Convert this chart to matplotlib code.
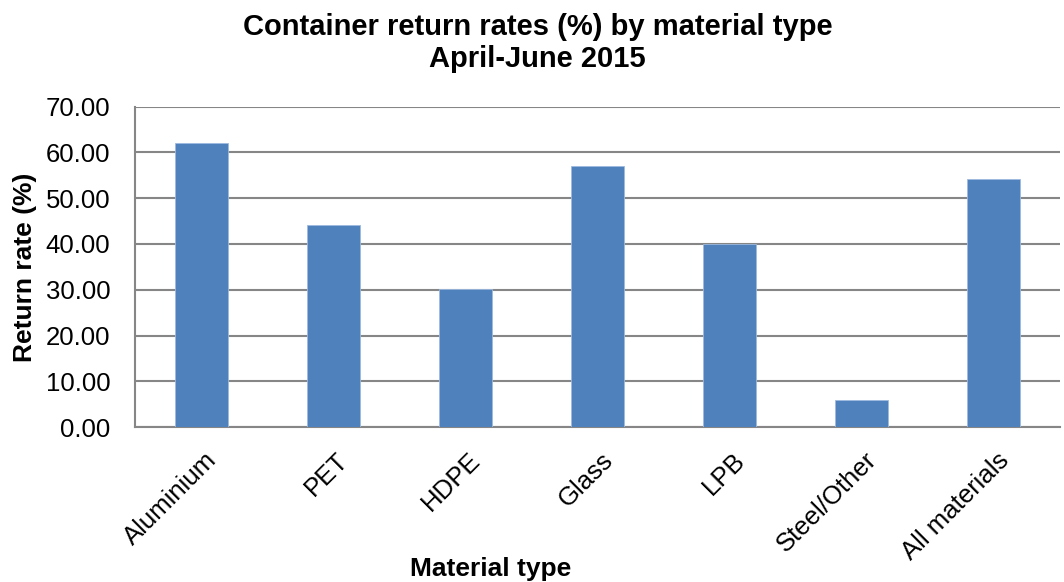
import matplotlib.pyplot as plt
import numpy as np
from matplotlib.transforms import ScaledTranslation

plt.rcParams["font.family"] = ["Liberation Sans", "DejaVu Sans"]

# data
materials = ['Aluminium', 'PET', 'HDPE', 'Glass', 'LPB', 'Steel/Other', 'All materials']
return_rate = [62.0, 44.2, 30.1, 57.0, 40.0, 5.9, 54.2]
y_ticks = [0, 10, 20, 30, 40, 50, 60, 70]

bar_col = '#4F81BD'
grid_col = '#868686'

fig = plt.figure(figsize=(10.64, 5.82), dpi=100)
ax = fig.add_axes([0.127, 0.266, 0.869, 0.551])

x = np.arange(len(materials))
ax.bar(x, return_rate, width=0.4, color=bar_col, edgecolor='#9DBBE0',
       linewidth=0.6, zorder=3)

ax.set_xlim(-0.5, len(materials) - 0.5)
ax.set_ylim(0, 70)
ax.set_yticks(y_ticks)
ax.set_yticklabels(['%.2f' % v for v in y_ticks], fontsize=18.5)
ax.yaxis.grid(True, color=grid_col, linewidth=1.5, zorder=0)
ax.set_axisbelow(True)

ax.set_xticks(x)
ax.set_xticklabels(materials, rotation=45, ha='right', rotation_mode='anchor',
                   fontsize=18.5)
ax.tick_params(axis='y', length=0, pad=18)
ax.tick_params(axis='x', length=0, pad=15)
# nudge the slanted labels a little to the right like the original
shift = ScaledTranslation(3 / 100, 0, fig.dpi_scale_trans)
for lab in ax.get_xticklabels():
    lab.set_transform(lab.get_transform() + shift)

for side in ['top', 'right']:
    ax.spines[side].set_visible(False)
ax.spines['left'].set_color(grid_col)
ax.spines['left'].set_linewidth(1.5)
ax.spines['bottom'].set_color(grid_col)
ax.spines['bottom'].set_linewidth(1.5)

fig.text(0.461, 0.0223, 'Material type', ha='center', va='center',
         fontsize=19, fontweight='bold')
fig.text(0.0232, 0.540, 'Return rate (%)', ha='center', va='center',
         rotation=90, fontsize=19, fontweight='bold')
fig.text(0.505, 0.926, 'Container return rates (%) by material type\nApril-June 2015',
         ha='center', va='center', fontsize=21, fontweight='bold', linespacing=1.16)

fig.savefig('out.png', dpi=100)
